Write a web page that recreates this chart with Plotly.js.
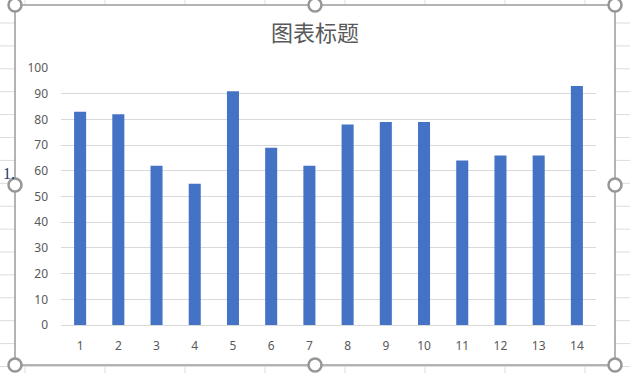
<!DOCTYPE html>
<html>
<head>
<meta charset="utf-8">
<script src="https://cdn.plot.ly/plotly-3.0.1.min.js"></script>
<style>
  html, body { margin: 0; padding: 0; background: #ffffff; }
  #chart { width: 630px; height: 373px; }
</style>
</head>
<body>
<div id="chart"></div>
<script>
// Category labels and series values
const categories = ['1', '2', '3', '4', '5', '6', '7', '8', '9', '10', '11', '12', '13', '14'];
const values = [83, 82, 62, 55, 91, 69, 62, 78, 79, 79, 64, 66, 66, 93];
const yTicks = [0, 10, 20, 30, 40, 50, 60, 70, 80, 90, 100];
const chartTitle = '图表标题';

// Canvas and plot area geometry (pixels)
const W = 630, H = 373;
const M = { l: 61, r: 34, t: 68, b: 48 };
const PW = W - M.l - M.r, PH = H - M.t - M.b;

// pixel -> paper coordinate helpers for the decorative frame
const px = x => (x - M.l) / PW;
const py = y => (H - M.b - y) / PH;

const shapes = [];

// worksheet cell grid behind the chart object
const sheetLine = { color: '#dadcdd', width: 1 };
for (let x = 25; x < W; x += 80) {
  shapes.push({ type: 'line', xref: 'paper', yref: 'paper', layer: 'below',
    x0: px(x), x1: px(x), y0: py(0), y1: py(H), line: sheetLine });
}
for (let y = 23; y < H; y += 22.9) {
  shapes.push({ type: 'line', xref: 'paper', yref: 'paper', layer: 'below',
    x0: px(0), x1: px(W), y0: py(y), y1: py(y), line: sheetLine });
}

// chart object: white area with gray selection border
shapes.push({ type: 'rect', xref: 'paper', yref: 'paper', layer: 'below',
  x0: px(15), x1: px(615), y0: py(365), y1: py(5),
  fillcolor: '#ffffff', line: { color: '#9b9b9b', width: 1.5 } });

// selection handles
const handles = [[15, 5], [315, 5], [615, 5], [15, 185], [615, 185], [15, 365], [315, 365], [615, 365]];
const r = 6.5;
handles.forEach(([hx, hy]) => {
  shapes.push({ type: 'circle', xref: 'paper', yref: 'paper', layer: 'above',
    x0: px(hx - r), x1: px(hx + r), y0: py(hy + r), y1: py(hy - r),
    fillcolor: '#ffffff', line: { color: '#969696', width: 2.5 } });
});

const trace = {
  type: 'bar',
  x: categories,
  y: values,
  marker: { color: '#4472c4', line: { width: 0 } },
  hoverinfo: 'x+y'
};

const tickFont = { family: 'Noto Sans, Liberation Sans, sans-serif', size: 12, color: '#595959' };

const layout = {
  width: W,
  height: H,
  margin: M,
  paper_bgcolor: '#ffffff',
  plot_bgcolor: 'rgba(0,0,0,0)',
  showlegend: false,
  bargap: 0.685,
  title: {
    text: chartTitle,
    font: { family: 'Noto Sans CJK SC, sans-serif', size: 22, color: '#595959' },
    x: 315 / W, xref: 'container', xanchor: 'center',
    y: (H - 33) / H, yref: 'container', yanchor: 'middle'
  },
  xaxis: {
    type: 'category',
    tickvals: categories,
    ticktext: categories,
    showgrid: false,
    showline: true,
    linecolor: '#d9d9d9',
    linewidth: 1,
    ticks: '',
    ticklabelstandoff: 10,
    tickfont: tickFont,
    zeroline: false,
    fixedrange: true
  },
  yaxis: {
    range: [0, 100],
    tickvals: yTicks,
    ticktext: yTicks.map(String),
    showgrid: true,
    gridcolor: '#d9d9d9',
    gridwidth: 1,
    zeroline: false,
    showline: false,
    ticks: '',
    ticklabelstandoff: 12,
    tickfont: tickFont,
    fixedrange: true
  },
  shapes: shapes,
  annotations: [{
    xref: 'paper', yref: 'paper', x: px(1), y: py(173),
    xanchor: 'left', yanchor: 'middle', showarrow: false,
    text: '1.', font: { family: 'Liberation Serif, serif', size: 16, color: '#1f3a68' }
  }]
};

Plotly.newPlot('chart', [trace], layout, { displayModeBar: false, staticPlot: true });
</script>
</body>
</html>
